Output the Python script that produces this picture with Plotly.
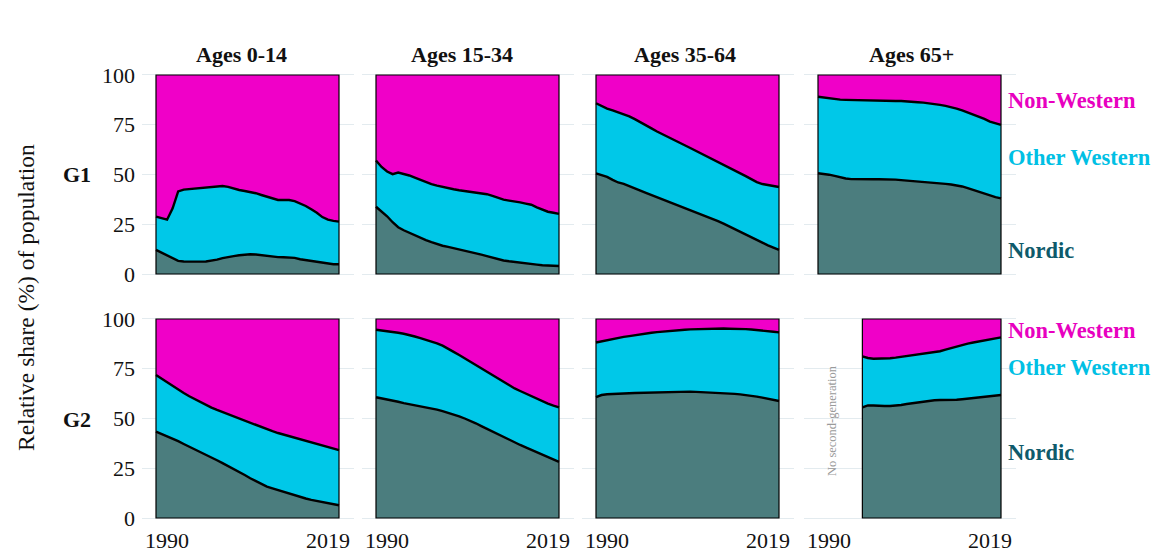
import plotly.graph_objects as go

# ---------------------------------------------------------------------------
# Data: share (%) of the population by origin, per year
#   *_nordic  : Nordic origin
#   *_western : all Western origin (Nordic + other Western)
# Non-Western is the remainder up to 100.
# ---------------------------------------------------------------------------
YEARS = list(range(1988, 2022))
YEARS_G2_65 = list(range(1996, 2022))

AGE_GROUPS = ["Ages 0-14", "Ages 15-34", "Ages 35-64", "Ages 65+"]
GENERATIONS = ["G1", "G2"]
ORIGIN_LABELS = ["Non-Western", "Other Western", "Nordic"]
X_TICKS = [1990, 2019]
Y_TICKS = [0, 25, 50, 75, 100]

# First generation
g1_nordic_0_14 = [12.1, 10.8, 9.4, 7.8, 6.6, 6.3, 6.2, 6.2, 6.2, 6.3, 6.6, 7.2, 8.0, 8.6, 9.0, 9.4, 9.8,
                  9.9, 9.8, 9.4, 9.0, 8.7, 8.5, 8.4, 8.3, 8.1, 7.4, 7.0, 6.4, 5.9, 5.5, 5.2, 4.9, 4.9]
g1_western_0_14 = [28.8, 28.0, 27.3, 33.0, 41.5, 42.4, 42.7, 42.9, 43.0, 43.3, 43.6, 43.9, 44.2, 43.8,
                   42.9, 42.2, 41.7, 41.2, 40.6, 39.7, 38.8, 37.9, 37.2, 37.2, 37.2, 36.6, 35.5, 34.2,
                   32.5, 30.8, 28.6, 27.3, 26.7, 26.3]

g1_nordic_15_34 = [33.8, 31.5, 29.0, 26.0, 23.5, 22.0, 20.7, 19.5, 18.3, 17.0, 16.0, 15.0, 14.2, 13.6,
                   13.0, 12.4, 11.8, 11.1, 10.4, 9.7, 9.0, 8.2, 7.5, 6.8, 6.4, 6.0, 5.6, 5.3, 5.0, 4.7,
                   4.4, 4.2, 4.1, 4.0]
g1_western_15_34 = [57.0, 53.8, 51.5, 50.2, 51.0, 50.3, 49.5, 48.4, 47.2, 46.1, 45.2, 44.4, 43.7, 43.2,
                    42.6, 42.1, 41.7, 41.5, 41.2, 40.7, 40.1, 39.3, 38.4, 37.4, 36.9, 36.6, 36.0, 35.4,
                    34.8, 33.5, 32.3, 31.3, 30.8, 30.2]

g1_nordic_35_64 = [50.6, 49.8, 48.8, 47.3, 46.0, 45.3, 44.3, 43.1, 41.9, 40.8, 39.7, 38.7, 37.7, 36.6,
                   35.6, 34.5, 33.5, 32.4, 31.3, 30.2, 29.1, 27.8, 26.6, 25.3, 24.0, 22.7, 21.4, 20.0,
                   18.7, 17.2, 15.8, 14.4, 13.2, 12.1]
g1_western_35_64 = [85.8, 84.4, 83.1, 82.2, 81.2, 80.4, 79.2, 77.8, 76.4, 74.8, 73.2, 71.6, 70.3, 68.9,
                    67.5, 66.1, 64.7, 63.3, 61.9, 60.6, 59.3, 57.8, 56.5, 55.0, 53.6, 52.1, 50.6, 49.2,
                    47.7, 46.2, 45.2, 44.6, 44.1, 43.7]

g1_nordic_65 = [50.6, 50.3, 49.9, 49.3, 48.6, 48.0, 47.7, 47.6, 47.6, 47.6, 47.6, 47.6, 47.6, 47.5, 47.4,
                47.2, 47.0, 46.7, 46.4, 46.1, 45.9, 45.7, 45.5, 45.3, 45.0, 44.6, 44.0, 43.2, 42.3, 41.3,
                40.3, 39.4, 38.6, 38.0]
g1_western_65 = [89.1, 88.7, 88.3, 87.9, 87.6, 87.5, 87.4, 87.3, 87.2, 87.1, 87.0, 86.9, 86.9, 86.9, 86.9,
                 86.9, 86.8, 86.6, 86.3, 86.1, 85.8, 85.4, 85.0, 84.5, 83.9, 83.1, 82.2, 81.2, 80.0, 79.0,
                 77.9, 76.6, 75.7, 74.9]

# Second generation
g2_nordic_0_14 = [43.4, 42.3, 41.2, 40.0, 38.6, 37.2, 35.9, 34.5, 33.1, 31.7, 30.3, 29.0, 27.6, 26.2,
                  24.8, 23.2, 21.6, 20.0, 18.5, 17.0, 15.8, 14.9, 14.0, 13.1, 12.2, 11.3, 10.5, 9.8, 9.1,
                  8.5, 7.9, 7.3, 6.8, 6.4]
g2_western_0_14 = [71.9, 70.0, 68.2, 66.3, 64.6, 62.8, 61.2, 59.7, 58.2, 56.8, 55.5, 54.3, 53.2, 52.1,
                   51.0, 50.0, 49.0, 47.6, 46.6, 45.5, 44.5, 43.6, 42.7, 41.9, 41.0, 40.2, 39.5, 38.8,
                   38.0, 37.2, 36.4, 35.6, 34.8, 34.1]

g2_nordic_15_34 = [60.7, 60.2, 59.6, 59.0, 58.4, 57.7, 57.2, 56.6, 56.1, 55.6, 55.2, 54.5, 53.7, 52.9,
                   52.1, 51.1, 50.0, 48.9, 47.6, 46.2, 44.8, 43.3, 41.9, 40.5, 39.1, 37.9, 36.7, 35.5,
                   34.3, 33.1, 31.9, 30.6, 29.4, 28.2]
g2_western_15_34 = [94.6, 94.3, 94.0, 93.6, 93.1, 92.6, 92.0, 91.2, 90.4, 89.5, 88.9, 87.8, 86.6, 85.2,
                    83.5, 81.9, 80.2, 78.6, 76.9, 75.2, 73.4, 71.6, 69.9, 68.3, 66.8, 65.1, 63.8, 62.5,
                    61.3, 59.9, 58.8, 57.5, 56.5, 55.6]

g2_nordic_35_64 = [60.7, 61.8, 62.2, 62.4, 62.5, 62.6, 62.7, 62.8, 62.9, 63.0, 63.1, 63.2, 63.3, 63.4,
                   63.5, 63.5, 63.5, 63.5, 63.4, 63.3, 63.1, 63.0, 62.9, 62.7, 62.5, 62.4, 62.1, 61.8,
                   61.4, 61.0, 60.5, 59.9, 59.4, 58.8]
g2_western_35_64 = [88.2, 88.8, 89.3, 89.9, 90.5, 91.0, 91.4, 91.9, 92.3, 92.8, 93.1, 93.4, 93.7, 94.0,
                    94.3, 94.5, 94.6, 94.8, 94.9, 95.0, 95.1, 95.1, 95.2, 95.2, 95.1, 95.1, 95.0, 94.9,
                    94.7, 94.5, 94.2, 93.9, 93.6, 93.3]

g2_nordic_65 = [55.6, 56.6, 56.5, 56.3, 56.3, 56.3, 56.4, 56.8, 57.3, 57.7, 58.0, 58.4, 58.8, 59.2, 59.3,
                59.3, 59.3, 59.4, 59.7, 60.0, 60.4, 60.7, 61.0, 61.3, 61.6, 61.8]
g2_western_65 = [81.2, 80.4, 80.0, 80.0, 80.0, 80.3, 80.6, 81.0, 81.3, 81.6, 81.9, 82.4, 82.8, 83.3, 83.8,
                 84.6, 85.4, 86.2, 87.0, 87.6, 88.2, 88.7, 89.3, 89.8, 90.3, 90.8]

PANELS = [
    (YEARS, g1_nordic_0_14, g1_western_0_14),
    (YEARS, g1_nordic_15_34, g1_western_15_34),
    (YEARS, g1_nordic_35_64, g1_western_35_64),
    (YEARS, g1_nordic_65, g1_western_65),
    (YEARS, g2_nordic_0_14, g2_western_0_14),
    (YEARS, g2_nordic_15_34, g2_western_15_34),
    (YEARS, g2_nordic_35_64, g2_western_35_64),
    (YEARS_G2_65, g2_nordic_65, g2_western_65),
]

# ---------------------------------------------------------------------------
# Styling
# ---------------------------------------------------------------------------
W, H = 1151, 553
SERIF = "Liberation Serif, Times New Roman, serif"
C_NORDIC = "#4b7d7e"
C_OTHER = "#00c8e8"
C_NONWEST = "#f000c8"
LABEL_COLORS = {"Non-Western": "#e800c0", "Other Western": "#00c0e4", "Nordic": "#0e5a6b"}
GRID = "#e3ebef"
TEXT = "#111111"

# pixel layout of the facet grid
COL_LEFT = [142, 362, 582, 804]
COL_WIDTH = 212
ROW_ZERO = [274, 518]          # pixel row of y = 0
PX_PER_UNIT = 1.99             # pixels per percentage point
Y_RANGE = [-1.5, 101.5]
X_RANGE = [1985.475, 2023.705]


def px(x):
    return x / W


def py(y):
    return 1 - y / H


fig = go.Figure()
layout = {}
shapes = []

for i, (years, nordic, western) in enumerate(PANELS):
    r, c = divmod(i, 4)
    ax = "" if i == 0 else str(i + 1)
    other = [round(w - n, 2) for n, w in zip(nordic, western)]
    nonwest = [round(100 - w, 2) for w in western]
    group = f"panel{i}"
    common = dict(x=years, xaxis="x" + ax, yaxis="y" + ax, stackgroup=group,
                  mode="lines", showlegend=False, hoverinfo="skip")
    fig.add_trace(go.Scatter(y=nordic, name="Nordic", fillcolor=C_NORDIC,
                             line=dict(color="black", width=2.4), **common))
    fig.add_trace(go.Scatter(y=other, name="Other Western", fillcolor=C_OTHER,
                             line=dict(color="black", width=2.4), **common))
    fig.add_trace(go.Scatter(y=nonwest, name="Non-Western", fillcolor=C_NONWEST,
                             line=dict(color=C_NONWEST, width=0), **common))

    x0 = COL_LEFT[c]
    y_bottom = ROW_ZERO[r] - (Y_RANGE[0]) * PX_PER_UNIT
    y_top = ROW_ZERO[r] - (Y_RANGE[1]) * PX_PER_UNIT
    layout["xaxis" + ax] = dict(
        domain=[px(x0), px(x0 + COL_WIDTH)], range=X_RANGE, anchor="y" + ax,
        showgrid=False, zeroline=False, showline=False, ticks="", automargin=False,
        tickvals=X_TICKS if r == 1 else [], showticklabels=(r == 1),
        ticklabelstandoff=4,
        tickfont=dict(family=SERIF, size=22, color=TEXT),
    )
    layout["yaxis" + ax] = dict(
        domain=[py(y_bottom), py(y_top)], range=Y_RANGE, anchor="x" + ax,
        tickvals=Y_TICKS, showticklabels=(c == 0), showgrid=True, automargin=False,
        gridcolor=GRID, gridwidth=1, zeroline=False, showline=False, ticks="",
        ticklabelstandoff=6,
        tickfont=dict(family=SERIF, size=22, color=TEXT),
    )
    shapes.append(dict(type="rect", xref="x" + ax, yref="y" + ax,
                       x0=years[0], x1=years[-1], y0=0, y1=100,
                       line=dict(color="black", width=1.2), layer="above"))

annotations = []
# facet titles
title_x = [241.5, 462, 684.5, 911]
for name, x in zip(AGE_GROUPS, title_x):
    annotations.append(dict(text=f"<b>{name}</b>", x=px(x), y=py(54), xref="paper", yref="paper",
                            showarrow=False, xanchor="center", yanchor="middle",
                            font=dict(family=SERIF, size=22, color=TEXT)))
# generation row labels
for name, y in zip(GENERATIONS, [174, 419]):
    annotations.append(dict(text=f"<b>{name}</b>", x=px(77), y=py(y), xref="paper", yref="paper",
                            showarrow=False, xanchor="center", yanchor="middle",
                            font=dict(family=SERIF, size=22, color=TEXT)))
# origin labels to the right of each row
label_y = [[101, 157, 250], [330, 367, 452]]
for ys in label_y:
    for name, y in zip(ORIGIN_LABELS, ys):
        annotations.append(dict(text=f"<b>{name}</b>", x=px(1006), y=py(y), xref="paper",
                                yref="paper", showarrow=False, xanchor="left", yanchor="middle",
                                font=dict(family=SERIF, size=22.5, color=LABEL_COLORS[name])))
# shared y title
annotations.append(dict(text="Relative share (%) of population", x=px(26), y=py(298),
                        xref="paper", yref="paper", showarrow=False, textangle=-90,
                        xanchor="center", yanchor="middle",
                        font=dict(family=SERIF, size=23.5, color=TEXT)))
# note for the empty part of the G2 / 65+ panel
annotations.append(dict(text="No second-generation", x=px(832), y=py(421), xref="paper",
                        yref="paper", showarrow=False, textangle=-90,
                        xanchor="center", yanchor="middle",
                        font=dict(family=SERIF, size=12.5, color="#9a9a9a")))

fig.update_layout(
    width=W, height=H, margin=dict(l=0, r=0, t=0, b=0, autoexpand=False),
    paper_bgcolor="white", plot_bgcolor="white",
    shapes=shapes, annotations=annotations, showlegend=False,
    **layout,
)

fig.write_html("out.html")
